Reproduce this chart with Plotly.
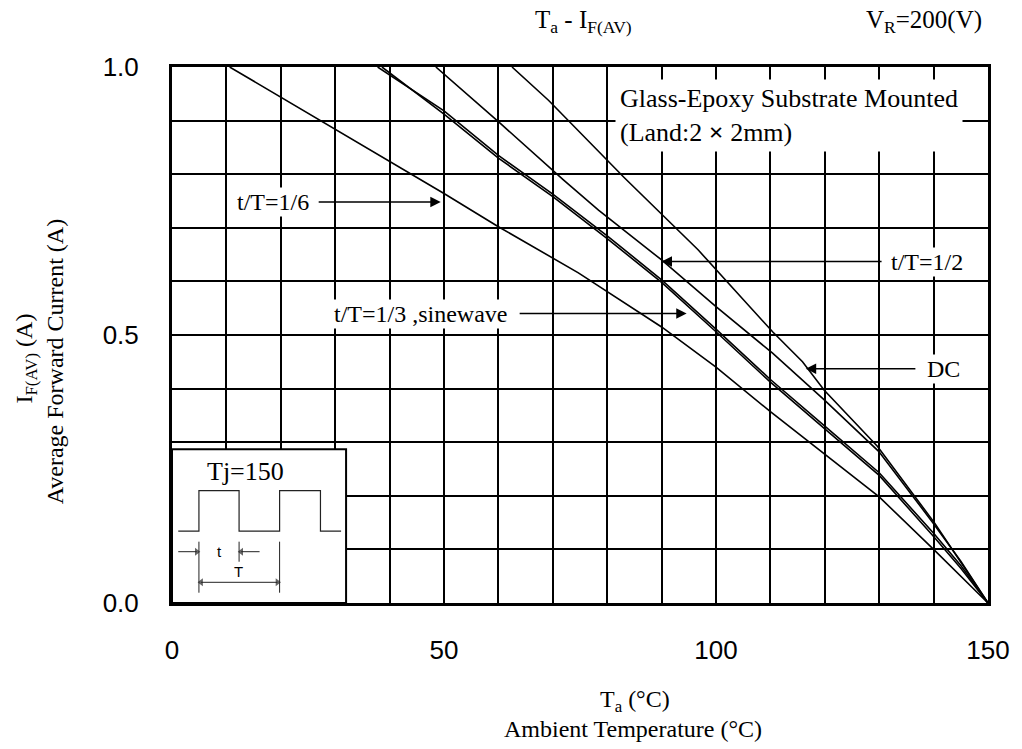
import plotly.graph_objects as go

# ---- data ----
ta_dc = [62.5, 69.2, 83.2, 96.7, 110.4, 115.9, 119.9, 129.7, 140.2, 144.3, 150]
i_dc = [1.0, 0.938, 0.793, 0.659, 0.506, 0.450, 0.397, 0.292, 0.149, 0.086, 0.0]

ta_half = [48.5, 60, 72, 78.4, 90, 100, 110.4, 119.9, 129.9, 140.0, 145, 150]
i_half = [1.0, 0.898, 0.789, 0.733, 0.640, 0.553, 0.466, 0.379, 0.283, 0.148, 0.078, 0.0]

ta_third = [38.6, 50, 60, 70, 80, 90, 100, 110, 120, 130, 140, 145, 150]
i_third = [1.0, 0.912, 0.830, 0.758, 0.680, 0.598, 0.506, 0.412, 0.325, 0.238, 0.124, 0.065, 0.0]

ta_sine = [37.8, 50, 60, 70, 80, 90, 100, 110, 120, 130, 140, 145, 150]
i_sine = [1.0, 0.918, 0.835, 0.763, 0.685, 0.603, 0.511, 0.417, 0.330, 0.243, 0.130, 0.070, 0.0]

ta_sixth = [10.6, 20, 30, 40, 50, 60, 74.7, 90, 100, 110, 120, 130, 140, 150]
i_sixth = [1.0, 0.944, 0.884, 0.824, 0.764, 0.702, 0.616, 0.515, 0.440, 0.357, 0.278, 0.198, 0.100, 0.0]

x_ticks = [0, 50, 100, 150]
y_ticks = [0.0, 0.5, 1.0]

# inset pulse diagram
wave_ta = [1.15, 4.95, 4.95, 12.33, 12.33, 19.78, 19.78, 27.29, 27.29, 31.08]
wave_i = [0.134, 0.134, 0.2095, 0.2095, 0.134, 0.134, 0.2095, 0.2095, 0.134, 0.134]

SERIF = "Liberation Serif, Times New Roman, serif"
SANS = "Liberation Sans, Arial, sans-serif"

fig = go.Figure()

# inset background box (above grid, below traces)
fig.add_shape(type="rect", x0=0, x1=32.0, y0=0, y1=0.287, xref="x", yref="y",
              fillcolor="white", line=dict(color="black", width=2), layer="between")

curve_style = dict(color="black", width=1.6)
for name, xs, ys in [("DC", ta_dc, i_dc), ("t/T=1/2", ta_half, i_half),
                     ("t/T=1/3", ta_third, i_third), ("sinewave", ta_sine, i_sine),
                     ("t/T=1/6", ta_sixth, i_sixth)]:
    fig.add_trace(go.Scatter(x=xs, y=ys, mode="lines", name=name, line=curve_style,
                             showlegend=False, hoverinfo="skip"))

thin = dict(color="#222", width=1.2)
fig.add_trace(go.Scatter(x=wave_ta, y=wave_i, mode="lines", line=thin,
                         showlegend=False, hoverinfo="skip"))

# inset dimension marker lines
for xv, ylo in [(4.95, 0.0192), (12.33, 0.077), (19.78, 0.0192)]:
    fig.add_shape(type="line", x0=xv, x1=xv, y0=ylo, y1=0.1144, xref="x", yref="y",
                  line=dict(color="#222", width=1))

# inset dimension arrows (line + arrow-head markers)
def dim_arrow(xs, ys, symbols, sizes):
    fig.add_trace(go.Scatter(x=xs, y=ys, mode="lines+markers", line=dict(color="#222", width=1),
                             marker=dict(symbol=symbols, size=sizes, color="#222",
                                         line=dict(width=0)),
                             showlegend=False, hoverinfo="skip"))

dim_arrow([1.15, 4.55], [0.0957, 0.0957], ["circle", "triangle-right"], [0, 7])
dim_arrow([16.1, 12.73], [0.0957, 0.0957], ["circle", "triangle-left"], [0, 7])
dim_arrow([5.35, 19.38], [0.0386, 0.0386], ["triangle-left", "triangle-right"], [7, 7])

ann = []

def label(x, y, text, size=24, bg="white", font=SERIF, xanchor="center", align="center",
          pad=1, head=None, standoff=8):
    a = dict(x=x, y=y, xref="x", yref="y", text=text, showarrow=False,
             font=dict(family=font, size=size, color="black"), bgcolor=bg,
             xanchor=xanchor, align=align, borderpad=pad)
    if head is not None:
        a.update(x=head[0], y=head[1], ax=x, ay=y, axref="x", ayref="y", showarrow=True,
                 arrowhead=2, arrowsize=1.3, arrowwidth=1.6, arrowcolor="black",
                 startstandoff=standoff)
    ann.append(a)

# curve labels with their arrows
label(18.6, 0.748, "t/T=1/6", head=(49.4, 0.748), standoff=8)
label(45.8, 0.540, "t/T=1/3 ,sinewave", head=(94.6, 0.540), standoff=10)
label(138.8, 0.637, "t/T=1/2", head=(90.0, 0.637), standoff=8)
label(141.8, 0.437, "DC", head=(116.5, 0.437), standoff=10)
label(81.5, 0.910, "Glass-Epoxy Substrate Mounted<br>(Land:2 <b>×</b> 2mm)",
      size=26, xanchor="left", align="left", pad=4)

# inset texts
label(13.55, 0.245, "Tj=150", size=26, bg=None)
label(8.66, 0.0957, "t", size=15, bg=None, font=SANS)
label(12.14, 0.0584, "T", size=15, bg=None, font=SANS)

# titles in paper coordinates
def ptext(x, y, text, size=24, angle=0):
    ann.append(dict(x=x, y=y, xref="paper", yref="paper", text=text, showarrow=False,
                    font=dict(family=SERIF, size=size, color="black"), textangle=angle,
                    xanchor="center", yanchor="middle"))

ptext(0.504, 1.0846, "T<sub>a</sub> - I<sub>F(AV)</sub>", size=25)
ptext(0.922, 1.0846, "V<sub>R</sub>=200(V)", size=25)
ptext(0.567, -0.183, "T<sub>a</sub> (°C)")
ptext(0.565, -0.236, "Ambient Temperature (°C)")
ptext(-0.179, 0.456, "I<sub>F(AV)</sub> (A)", angle=-90)
ptext(-0.144, 0.450, "Average Forward Current (A)", angle=-90)

grid = dict(showgrid=True, gridcolor="black", gridwidth=2)
fig.update_layout(
    width=1022, height=749, autosize=False,
    margin=dict(l=172, r=30, t=67, b=146),
    paper_bgcolor="white", plot_bgcolor="white",
    annotations=ann,
    xaxis=dict(range=[0, 150], tickvals=x_ticks, ticktext=[str(v) for v in x_ticks],
               **grid, minor=dict(dtick=10, **grid),
               showline=True, linecolor="black", linewidth=3, mirror=True,
               ticks="", ticklabelstandoff=22, zeroline=False,
               tickfont=dict(family=SANS, size=26, color="black")),
    yaxis=dict(range=[0, 1.0], tickvals=y_ticks, tickformat=".1f",
               **grid, minor=dict(dtick=0.1, **grid),
               showline=True, linecolor="black", linewidth=3, mirror=True,
               ticks="", ticklabelstandoff=25, zeroline=False,
               tickfont=dict(family=SANS, size=26, color="black")),
)

fig.write_html(
    "out.html",
    config={"displayModeBar": False, "staticPlot": True},
    post_script="document.documentElement.style.margin='0';document.body.style.margin='0';"
                "document.body.style.overflow='hidden';",
)
